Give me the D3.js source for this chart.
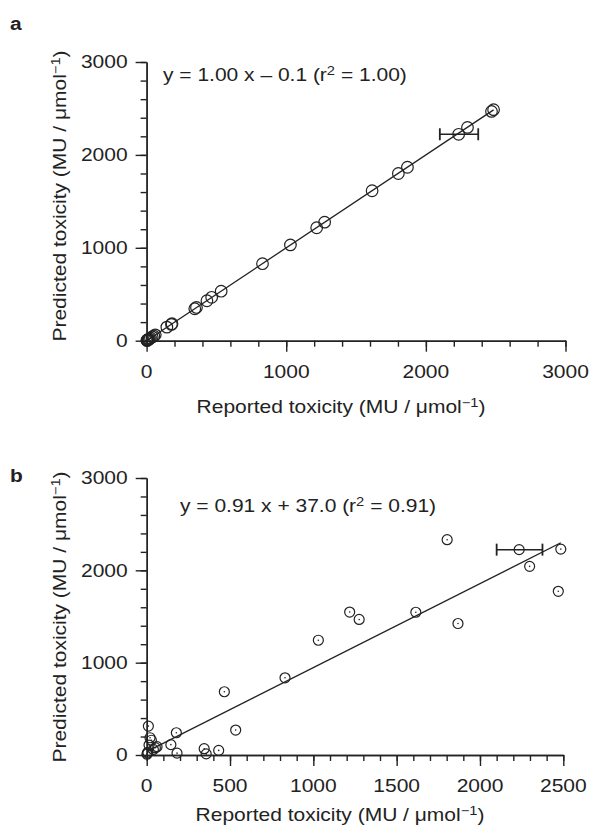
<!DOCTYPE html>
<html><head><meta charset="utf-8">
<script src="https://cdn.jsdelivr.net/npm/d3@7"></script>
<style>
html,body{margin:0;padding:0;background:#fff;}
svg{display:block;}
text{font-family:"Liberation Sans",Arial,Helvetica,sans-serif;fill:#222;}
</style></head>
<body><svg id="chart" width="590" height="828"></svg>
<script>
// ---- data ----
const reported   = [2, 4, 7, 10, 14, 20, 28, 40, 52, 62, 145, 178, 182, 345, 357, 432, 466, 534, 830, 1030, 1218, 1275, 1615, 1803, 1868, 2298, 2470, 2485];
const predictedA = [2, 5, 6, 11, 15, 19, 30, 41, 50, 63, 146, 176, 183, 344, 358, 430, 467, 533, 829, 1031, 1216, 1276, 1614, 1800, 1867, 2296, 2468, 2487];
const predictedB = [8, 20, 30, 313, 108, 187, 160, 60, 79, 90, 112, 241, 20, 68, 12, 50, 685, 270, 836, 1243, 1548, 1468, 1546, 2332, 1424, 2043, 1773, 2230];
const errReported = [2235];
const errLow = [2100];
const errHigh = [2375];
const errPredA = [2222];
const errPredB = [2224];
const fitA = [1.00, -0.1];
const fitB = [0.91, 37.0];
const fitRange = [0, 2485];
const xTicksA = [0, 1000, 2000, 3000];
const xTicksB = [0, 500, 1000, 1500, 2000, 2500];
const yTicks = [0, 1000, 2000, 3000];

const svg = d3.select("#chart");
const SX = 1.2, FS = 17.5;

function txt(g, x, y, parts, opts) {
  opts = opts || {};
  const rot = opts.rot ? ` rotate(${opts.rot})` : "";
  const sx = opts.sx || SX;
  const t = g.append("text")
    .attr("transform", `translate(${x},${y})${rot} scale(${sx},1)`)
    .attr("text-anchor", opts.anchor || "start")
    .attr("font-size", opts.size || FS)
    .attr("font-weight", opts.weight || "normal");
  if (opts.dy) t.attr("dy", opts.dy);
  let sup = false;
  parts.forEach(p => {
    if (typeof p === "string") {
      const s = t.append("tspan").text(p);
      if (sup) { s.attr("dy", 6.5); sup = false; }
    } else {
      t.append("tspan").attr("dy", -6.5).attr("font-size", (opts.size || FS) * 0.7).text(p.sup);
      sup = true;
    }
  });
  return t;
}

function panel(cfg) {
  const g = svg.append("g");
  const x = d3.scaleLinear().domain([0, cfg.xMax]).range(cfg.xRange);
  const y = d3.scaleLinear().domain([0, 3000]).range(cfg.yRange);

  const styleAxis = a => {
    a.select(".domain").attr("stroke", "#222").attr("stroke-width", 1.4);
    a.selectAll(".tick line").attr("stroke", "#222").attr("stroke-width", 1.4);
    a.selectAll("text").remove();
  };
  // minor ticks
  g.append("g").attr("transform", `translate(${x(0)},0)`)
    .call(d3.axisLeft(y).tickValues(d3.range(0, 3001, 200)).tickSize(6).tickSizeOuter(0).tickFormat(""))
    .call(styleAxis);
  g.append("g").attr("transform", `translate(0,${y(0)})`)
    .call(d3.axisBottom(x).tickValues(d3.range(0, cfg.xMax + 1, cfg.xMinor)).tickSize(6).tickSizeOuter(0).tickFormat(""))
    .call(styleAxis);
  // major ticks
  g.append("g").attr("transform", `translate(${x(0)},0)`)
    .call(d3.axisLeft(y).tickValues(yTicks).tickSize(11).tickSizeOuter(0).tickFormat(""))
    .call(styleAxis);
  g.append("g").attr("transform", `translate(0,${y(0)})`)
    .call(d3.axisBottom(x).tickValues(cfg.xTicks).tickSize(11).tickSizeOuter(0).tickFormat(""))
    .call(styleAxis);

  // tick labels
  yTicks.forEach(v => txt(g, x(0) - 19, y(v), [String(v)], {anchor: "end", dy: "0.36em"}));
  cfg.xTicks.forEach(v => txt(g, x(v), y(0) + 37, [String(v)], {anchor: "middle"}));

  // axis titles
  txt(g, (cfg.xRange[0] + cfg.xRange[1]) / 2 - 15, cfg.xLabelY,
      ["Reported toxicity (MU / \u03bcmol", {sup: "\u22121"}, ")"], {anchor: "middle"});
  txt(g, 66, cfg.yLabelC,
      ["Predicted toxicity (MU / \u03bcmol", {sup: "\u22121"}, ")"], {anchor: "middle", rot: -90});

  // panel letter
  txt(g, 10, cfg.letterY, [cfg.letter], {weight: "bold", size: 19, sx: 1.1});
  // equation
  txt(g, cfg.eqX, cfg.eqY, cfg.eq, {});

  // fit line
  g.append("line")
    .attr("x1", x(fitRange[0])).attr("y1", y(cfg.fit[0] * fitRange[0] + cfg.fit[1]))
    .attr("x2", x(fitRange[1])).attr("y2", y(cfg.fit[0] * fitRange[1] + cfg.fit[1]))
    .attr("stroke", "#222").attr("stroke-width", 1.3);

  // points
  const pts = reported.map((r, i) => [r, cfg.pred[i]]);
  g.selectAll("circle.pt").data(pts).join("circle").attr("class", "pt")
    .attr("cx", d => x(d[0])).attr("cy", d => y(d[1])).attr("r", cfg.r)
    .attr("fill", "none").attr("stroke", "#222").attr("stroke-width", 1.2);
  if (cfg.dots) {
    g.selectAll("circle.dot").data(pts).join("circle").attr("class", "dot")
      .attr("cx", d => x(d[0])).attr("cy", d => y(d[1])).attr("r", 0.8)
      .attr("fill", "#222");
  }
  // error bar point
  errReported.forEach((r, i) => {
    const py = y(cfg.errPred[i]);
    g.append("line").attr("x1", x(errLow[i])).attr("x2", x(errHigh[i]))
      .attr("y1", py).attr("y2", py).attr("stroke", "#222").attr("stroke-width", 1.5);
    [errLow[i], errHigh[i]].forEach(v =>
      g.append("line").attr("x1", x(v)).attr("x2", x(v)).attr("y1", py - 6).attr("y2", py + 6)
        .attr("stroke", "#222").attr("stroke-width", 1.8));
    g.append("circle").attr("cx", x(r)).attr("cy", py).attr("r", cfg.r)
      .attr("fill", "none").attr("stroke", "#222").attr("stroke-width", 1.2);
  });
}

panel({
  letter: "a", letterY: 30, xMax: 3000, xMinor: 200, xTicks: xTicksA,
  xRange: [146.6, 565.5], yRange: [340.7, 62],
  xLabelY: 413, yLabelC: 196, eqX: 163, eqY: 81,
  eq: ["y = 1.00 x \u2013 0.1 (r", {sup: "2"}, " = 1.00)"],
  fit: fitA, pred: predictedA, errPred: errPredA, r: 5.8, dots: false
});
panel({
  letter: "b", letterY: 482, xMax: 2500, xMinor: 100, xTicks: xTicksB,
  xRange: [146.7, 563.3], yRange: [755, 478],
  xLabelY: 821, yLabelC: 617, eqX: 180, eqY: 512,
  eq: ["y = 0.91 x + 37.0 (r", {sup: "2"}, " = 0.91)"],
  fit: fitB, pred: predictedB, errPred: errPredB, r: 5, dots: true
});
</script></body></html>
